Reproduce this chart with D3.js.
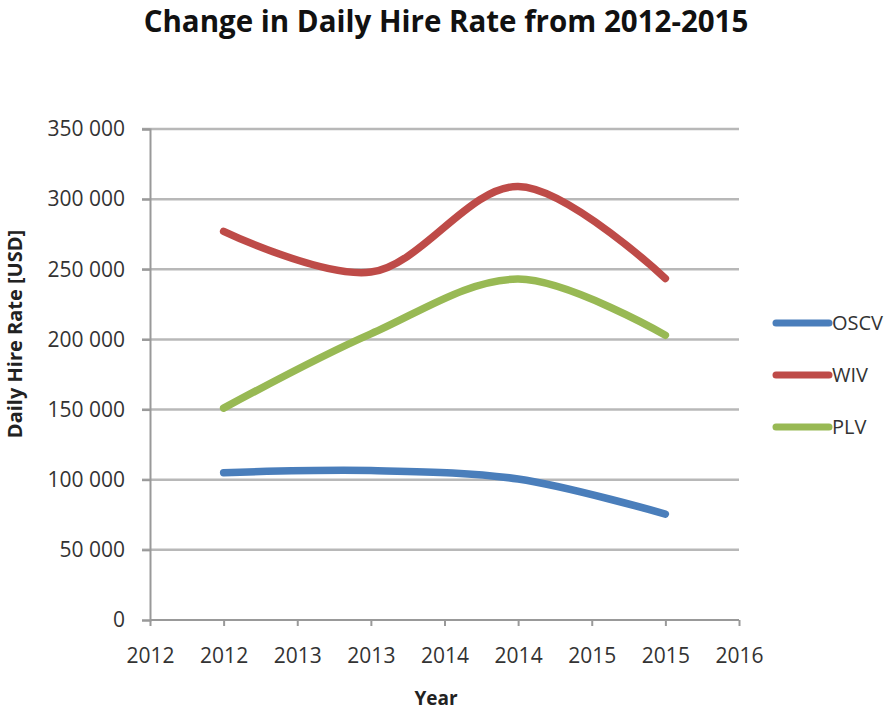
<!DOCTYPE html>
<html><head><meta charset="utf-8">
<script src="https://cdn.jsdelivr.net/npm/d3@7"></script>
<style>body{margin:0;background:#fff;} text{font-family:"Open Sans","Liberation Sans",sans-serif;}</style>
</head><body>
<svg id="c" width="891" height="713"></svg>
<script>
const years = [2012, 2013, 2014, 2015];
const seriesNames = ["OSCV", "WIV", "PLV"];
const oscv = [105000, 106500, 100500, 75500];
const wiv = [277000, 248000, 309000, 243500];
const plv = [151000, 204000, 243000, 203000];
const xTicks = [2011.5, 2012, 2012.5, 2013, 2013.5, 2014, 2014.5, 2015, 2015.5];
const yTicks = [0, 50000, 100000, 150000, 200000, 250000, 300000, 350000];
const colors = ["#4a7ebb", "#be4b48", "#98b954"];
const allSeries = [oscv, wiv, plv];

const svg = d3.select("#c");
const x = d3.scaleLinear().domain([2011.5, 2015.5]).range([150, 739]);
const y = d3.scaleLinear().domain([0, 350000]).range([620, 129]);

svg.append("text").attr("x", 446).attr("y", 32).attr("text-anchor", "middle")
  .style("font-size", "29.5px").style("font-weight", "bold").attr("fill", "#111")
  .text("Change in Daily Hire Rate from 2012-2015");

// gridlines
svg.append("g").selectAll("line").data(yTicks.filter(d => d > 0)).join("line")
  .attr("x1", 142).attr("x2", 739).attr("y1", d => y(d)).attr("y2", d => y(d))
  .attr("stroke", "#b8b8b8").attr("stroke-width", 2.5);

// y axis
const ya = svg.append("g").attr("transform", "translate(150,0)")
  .call(d3.axisLeft(y).tickValues(yTicks).tickSize(8).tickPadding(17)
    .tickFormat(d => d3.format(",")(d).replace(/,/g, " ")));
ya.select(".domain").attr("stroke", "#999").attr("stroke-width", 2);
ya.selectAll(".tick line").attr("stroke", "#999").attr("stroke-width", 2);
ya.selectAll(".tick text").style("font-size", "21px").attr("fill", "#333");

// x axis
const xa = svg.append("g").attr("transform", "translate(0,620)")
  .call(d3.axisBottom(x).tickValues(xTicks).tickSize(6).tickPadding(37)
    .tickFormat(d => String(Math.round(d + 0.0001))));
xa.select(".domain").attr("stroke", "#999").attr("stroke-width", 2).attr("d", "M150,0H739");
xa.selectAll(".tick line").attr("stroke", "#999").attr("stroke-width", 2);
xa.selectAll(".tick text").style("font-size", "21px").attr("fill", "#333").attr("dy", "0");

svg.append("text").attr("x", 436).attr("y", 705).attr("text-anchor", "middle")
  .style("font-size", "19px").style("font-weight", "bold").attr("fill", "#222").text("Year");
svg.append("text").attr("transform", "translate(22,334) rotate(-90)").attr("text-anchor", "middle")
  .style("font-size", "20px").style("font-weight", "bold").attr("fill", "#222").text("Daily Hire Rate [USD]");

const line = d3.line().x((d, i) => x(years[i])).y(d => y(d)).curve(d3.curveCatmullRom.alpha(0.5));
svg.append("g").selectAll("path").data(allSeries).join("path")
  .attr("d", d => line(d)).attr("fill", "none")
  .attr("stroke", (d, i) => colors[i]).attr("stroke-width", 7.5).attr("stroke-linecap", "round");

// legend
const legY = [323, 375, 427];
const lg = svg.append("g").selectAll("g").data(seriesNames).join("g");
lg.append("line").attr("x1", 776).attr("x2", 829).attr("y1", (d, i) => legY[i]).attr("y2", (d, i) => legY[i])
  .attr("stroke", (d, i) => colors[i]).attr("stroke-width", 7).attr("stroke-linecap", "round");
lg.append("text").attr("x", 832).attr("y", (d, i) => legY[i] + 7).style("font-size", "20px").attr("fill", "#333").text(d => d);
</script>
</body></html>
